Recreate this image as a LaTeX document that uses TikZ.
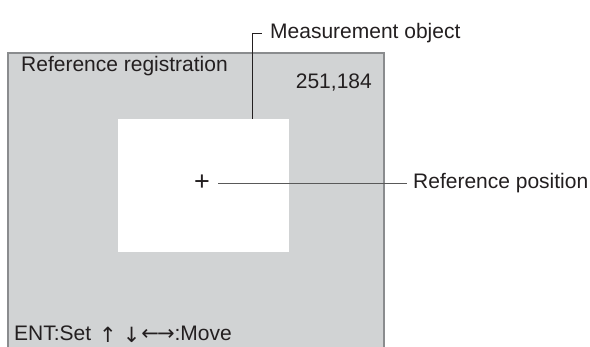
\documentclass[tikz,border=0pt]{standalone}
\usepackage{fontspec}
\setmainfont{Liberation Sans}
\newfontfamily\arrowfont{DejaVu Sans}
\usepackage{tikz}
\usetikzlibrary{positioning}
\definecolor{screengray}{HTML}{D1D3D4}
\definecolor{framegray}{HTML}{8A8C8E}
\definecolor{inkgray}{HTML}{231F20}

\begin{document}
\begin{tikzpicture}[x=1pt, y=-1pt, font=\fontsize{21}{24}\selectfont, text=inkgray]
    % Define styles
    \tikzstyle{screen} = [rectangle, draw=framegray, line width=1.6pt, fill=screengray, anchor=north west, minimum width=376pt, minimum height=320pt, inner sep=0pt]
    \tikzstyle{window} = [rectangle, fill=white, anchor=north west, minimum width=171pt, minimum height=133pt, inner sep=0pt]
    \tikzstyle{caption} = [inner sep=0pt, anchor=base west]
    \tikzstyle{leader} = [line width=1pt, draw=inkgray]
    \useasboundingbox (0,0) rectangle (590,346);

    % Nodes
    \node[screen] (lcd) at (7,52) {};
    \node[window] (obj) at (118,119) {};
    \node[caption] (title) at (21,71) {Reference registration};
    \node[caption, anchor=base east] (coord) at (372,88) {251,184};
    \node[inner sep=0pt, font=\fontsize{27}{30}\selectfont] (cross) at (202,183) {+};
    \node[caption] (keys) at (14,340) {ENT:Set\hspace{8pt}{\arrowfont\raisebox{-2pt}{↑}\hspace{6pt}\raisebox{-2pt}{↓}\hspace{1pt}←\hspace{-2pt}→}:Move};
    \node[caption, anchor=west] (objlabel) at (270,33) {Measurement object};
    \node[caption, anchor=west] (poslabel) at (413,183) {Reference position};
    \coordinate (objtop) at (252,119);

    % Connections
    \draw[leader] (objtop) |- ([xshift=-8pt]objlabel.west);
    \draw[leader, draw=black!65] ([xshift=8pt]cross.east) -- ([xshift=-6pt]poslabel.west);
\end{tikzpicture}
\end{document}
